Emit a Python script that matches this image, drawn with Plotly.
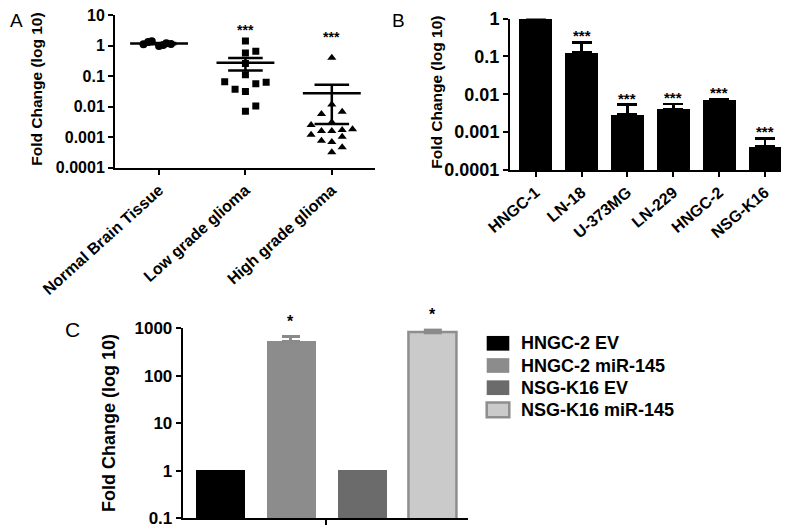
import numpy as np
import plotly.graph_objects as go

# ---------------- data ----------------
# Panel A (scatter dot plot, fold change)
a_categories = ["Normal Brain Tissue", "Low grade glioma", "High grade glioma"]
a_normal = [1.10, 1.30, 1.38, 0.97, 1.05, 1.19, 1.13]
a_low = [1.40, 0.57, 0.65, 0.26, 0.11, 0.065, 0.037, 0.031, 0.056, 0.063, 0.0105, 0.0071]
a_high = [0.40, 0.0117, 0.0057, 0.0068, 0.0031, 0.0025, 0.0016, 0.0016, 0.0017,
          0.0018, 0.0012, 0.00076, 0.00069, 0.00104, 0.00047, 0.00032]
a_stars = ["", "***", "***"]
a_star_level = [None, 3.3, 1.85]

# Panel B (cell lines)
b_lines = ["HNGC-1", "LN-18", "U-373MG", "LN-229", "HNGC-2", "NSG-K16"]
b_values = [1.0, 0.127, 0.0030, 0.0041, 0.0071, 0.00043]
b_err_up = [0.0, 0.109, 0.0023, 0.0015, 0.0004, 0.00025]
b_stars = ["", "***", "***", "***", "***", "***"]

# Panel C (miR-145 over-expression)
c_series = ["HNGC-2 EV", "HNGC-2 miR-145", "NSG-K16 EV", "NSG-K16 miR-145"]
c_values = [1.0, 527.0, 1.0, 809.0]
c_err_up = [0.0, 141.0, 0.0, 111.0]
c_stars = ["", "*", "", "*"]

log_ticks = [1000, 100, 10, 1, 0.1, 0.01, 0.001, 0.0001]
log_ticktext = ["1000", "100", "10", "1", "0.1", "0.01", "0.001", "0.0001"]
a_ticks = [10] + log_ticks[3:]
a_ticktext = ["10"] + log_ticktext[3:]

# ---------------- styling / layout helpers ----------------
# the page body adds an 8px offset, so the figure is sized to the visible area
OFF = 8
W, H = 789 - OFF, 530 - OFF
FONT = "Liberation Sans, Arial, sans-serif"
def px_x(p): return (p - OFF) / W
def px_y(p): return 1 - (p - OFF) / H

# horizontal spreading slots for the dot columns (layout, not data)
a_slots = [
    [-1.5, -1.05, -0.7, 0.0, 0.4, 0.7, 1.15],
    [0, 0, 1, 0, 0, -2, -1, 0, 1, 2, 1, 0],
    [0, 0, -1, 1, 0, -2, -1, 0, 1, 2, -2, -1, 0, 1, 1, 0],
]
slot_w = 0.12
a_symbols = ["circle", "square", "triangle-up"]
a_sizes = [8, 7, 8]

c_fill = ["#000000", "#8c8c8c", "#6b6b6b", "#cacaca"]
c_edge = ["#000000", "#8c8c8c", "#6b6b6b", "#8e8e8e"]

fig = go.Figure()

# ---------------- Panel A ----------------
groups = [a_normal, a_low, a_high]
for i, vals in enumerate(groups):
    xs = [i + s * slot_w for s in a_slots[i]]
    fig.add_trace(go.Scatter(
        x=xs, y=vals, mode="markers", xaxis="x", yaxis="y",
        marker=dict(symbol=a_symbols[i], size=a_sizes[i], color="black", line=dict(width=0)),
        showlegend=False, hoverinfo="y"))
for i, vals in enumerate(groups):
    v = np.array(vals)
    m = v.mean()
    s = v.std(ddof=1) / np.sqrt(len(v))
    lx = [i - 0.335, i + 0.335, None, i, i, None, i - 0.2, i + 0.2, None, i - 0.2, i + 0.2]
    ly = [m, m, None, m - s, m + s, None, m + s, m + s, None, m - s, m - s]
    fig.add_trace(go.Scatter(x=lx, y=ly, mode="lines", xaxis="x", yaxis="y",
                             line=dict(color="black", width=2.5), showlegend=False,
                             hoverinfo="skip"))

# ---------------- Panel B ----------------
fig.add_trace(go.Bar(
    x=list(range(len(b_lines))), y=b_values, xaxis="x2", yaxis="y2",
    width=0.72, marker=dict(color="black", line=dict(width=0)),
    error_y=dict(type="data", symmetric=False, array=b_err_up,
                 arrayminus=[0] * len(b_values), color="black", thickness=2.5, width=10),
    showlegend=False))

# ---------------- Panel C ----------------
for i, name in enumerate(c_series):
    fig.add_trace(go.Bar(
        x=[i], y=[c_values[i]], name=name, xaxis="x3", yaxis="y3",
        width=0.686,
        marker=dict(color=c_fill[i], line=dict(color=c_edge[i], width=2.5 if i == 3 else 0)),
        error_y=dict(type="data", symmetric=False, array=[c_err_up[i]], arrayminus=[0],
                     color="#8a8a8a", thickness=3, width=9, visible=c_err_up[i] > 0),
        showlegend=False))

annotations = []
# stars panel A
for i, st in enumerate(a_stars):
    if st:
        annotations.append(dict(x=i, y=np.log10(a_star_level[i]), xref="x", yref="y",
                                text=st, showarrow=False, yanchor="middle",
                                font=dict(family=FONT, size=14, color="black", weight="bold")))
# stars panel B
for i, st in enumerate(b_stars):
    if st:
        annotations.append(dict(x=i, y=np.log10(b_values[i] + b_err_up[i]), xref="x2", yref="y2",
                                text=st, showarrow=False, yanchor="bottom", yshift=-4,
                                font=dict(family=FONT, size=15, color="black", weight="bold")))
# stars panel C
for i, st in enumerate(c_stars):
    if st:
        annotations.append(dict(x=i, y=np.log10(c_values[i] + c_err_up[i]), xref="x3", yref="y3",
                                text=st, showarrow=False, yanchor="bottom", yshift=5,
                                font=dict(family=FONT, size=16, color="black", weight="bold")))

# axis titles
title_txt = "Fold Change (log 10)"
for xp, yp, sz in [(36.7, 89, 15.5), (435.8, 92, 15.5), (109, 423, 18)]:
    annotations.append(dict(x=px_x(xp), y=px_y(yp), xref="paper", yref="paper",
                            text=title_txt, textangle=-90, showarrow=False,
                            xanchor="center", yanchor="middle",
                            font=dict(family=FONT, size=sz, color="black", weight="bold")))

# panel letters
for lab, xp, yp, sz in [("A", 8, 8, 19), ("B", 390, 8, 19), ("C", 63, 316, 21)]:
    annotations.append(dict(x=px_x(xp), y=px_y(yp), xref="paper", yref="paper",
                            text=lab, showarrow=False, xanchor="left", yanchor="top",
                            font=dict(family=FONT, size=sz, color="black")))

# legend for panel C (drawn in paper space)
shapes = []
leg_x0, leg_x1, leg_y0, leg_dy, leg_h = 486.7, 509.3, 343.3, 22.2, 14.7
for i, name in enumerate(c_series):
    yc = leg_y0 + i * leg_dy
    shapes.append(dict(type="rect", xref="paper", yref="paper",
                       x0=px_x(leg_x0), x1=px_x(leg_x1),
                       y0=px_y(yc + leg_h / 2), y1=px_y(yc - leg_h / 2),
                       fillcolor=c_fill[i],
                       line=dict(color=c_edge[i], width=2.5 if i == 3 else 0)))
    annotations.append(dict(x=px_x(519.3), y=px_y(yc), xref="paper", yref="paper",
                            text=name, showarrow=False, xanchor="left", yanchor="middle",
                            font=dict(family=FONT, size=18, color="black", weight="bold")))

axis_common = dict(showline=True, linecolor="black", linewidth=2, ticks="outside",
                   ticklen=5, tickwidth=2, tickcolor="black", showgrid=False,
                   zeroline=False, mirror=False, automargin=False,
                   ticklabeloverflow="allow")

fig.update_layout(
    width=W, height=H, margin=dict(l=0, r=0, t=0, b=0, autoexpand=False),
    paper_bgcolor="white", plot_bgcolor="white",
    font=dict(family=FONT, color="black"),
    showlegend=False,
    xaxis=dict(axis_common, domain=[px_x(115), px_x(375)], range=[-0.51, 2.5],
               tickmode="array", tickvals=[0, 1, 2], ticktext=a_categories, tickangle=-42,
               tickfont=dict(family=FONT, size=16, color="black", weight="bold"),
               anchor="y"),
    yaxis=dict(axis_common, type="log", domain=[px_y(167.7), px_y(15)], range=[-4, 1],
               tickmode="array", tickvals=a_ticks, ticktext=a_ticktext,
               tickfont=dict(family=FONT, size=16, color="black", weight="bold"),
               anchor="x"),
    xaxis2=dict(axis_common, domain=[px_x(510), px_x(787)], range=[-0.563, 5.48],
                tickmode="array", tickvals=list(range(len(b_lines))), ticktext=b_lines,
                tickangle=-40,
                tickfont=dict(family=FONT, size=16, color="black", weight="bold"),
                anchor="y2"),
    yaxis2=dict(axis_common, type="log", domain=[px_y(170), px_y(18.5)], range=[-4, 0],
                tickmode="array", tickvals=log_ticks[3:], ticktext=log_ticktext[3:],
                tickfont=dict(family=FONT, size=18, color="black", weight="bold"),
                anchor="x2"),
    xaxis3=dict(axis_common, domain=[px_x(182.7), px_x(468.3)], range=[-0.526, 3.5],
                tickmode="array", tickvals=[1.5], ticktext=[""], anchor="y3"),
    yaxis3=dict(axis_common, type="log", domain=[px_y(518), px_y(328.3)], range=[-1, 3],
                tickmode="array", tickvals=log_ticks[:5], ticktext=log_ticktext[:5],
                tickfont=dict(family=FONT, size=17, color="black", weight="bold"),
                anchor="x3"),
    annotations=annotations,
    shapes=shapes,
    bargap=0,
)

fig.write_html("out.html")
